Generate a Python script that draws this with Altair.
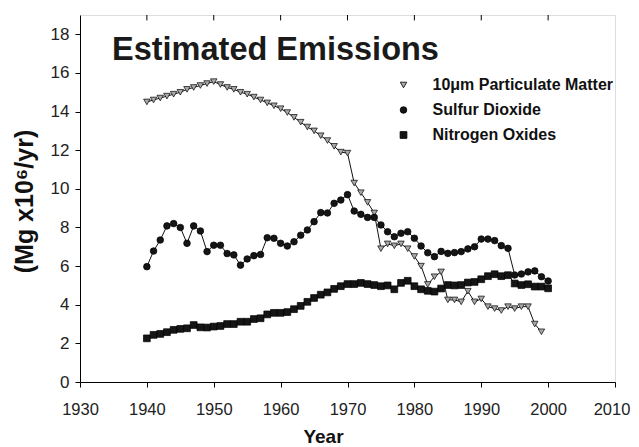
import altair as alt
import pandas as pd

# ---- data ----
series_names = ["10μm Particulate Matter", "Sulfur Dioxide", "Nitrogen Oxides"]

pm_years = list(range(1940, 2000))
pm_values = [14.5, 14.6, 14.7, 14.8, 14.9, 15.0, 15.15, 15.25, 15.35, 15.45,
             15.55, 15.4, 15.25, 15.15, 15.0, 14.9, 14.75, 14.6, 14.45, 14.3,
             14.15, 13.95, 13.7, 13.45, 13.2, 13.0, 12.75, 12.5, 12.2, 11.9,
             11.85, 10.3, 9.8, 9.3, 8.75, 6.9, 7.15, 7.05, 7.15, 6.9,
             6.5, 6.0, 5.05, 5.45, 5.7, 4.25, 4.25, 4.15, 4.7, 4.15,
             4.3, 3.9, 3.8, 3.7, 3.9, 3.8, 3.9, 3.9, 3.0, 2.6]

so2_years = list(range(1940, 2001))
so2_values = [5.97, 6.78, 7.35, 8.08, 8.2, 8.0, 7.18, 8.08, 7.82, 6.75,
              7.08, 7.08, 6.65, 6.58, 6.05, 6.37, 6.54, 6.6, 7.47, 7.44,
              7.18, 7.04, 7.26, 7.6, 7.87, 8.3, 8.77, 8.75, 9.25, 9.42,
              9.7, 8.85, 8.68, 8.52, 8.52, 8.13, 7.78, 7.52, 7.7, 7.78,
              7.44, 7.04, 6.69, 6.49, 6.76, 6.66, 6.7, 6.75, 6.89, 7.0,
              7.4, 7.4, 7.32, 7.06, 6.92, 5.54, 5.59, 5.7, 5.75, 5.45, 5.23]

nox_years = list(range(1940, 2001))
nox_values = [2.26, 2.44, 2.49, 2.58, 2.7, 2.75, 2.78, 2.95, 2.83, 2.82,
              2.87, 2.9, 3.0, 3.0, 3.12, 3.12, 3.26, 3.3, 3.5, 3.58,
              3.58, 3.62, 3.77, 3.94, 4.15, 4.35, 4.52, 4.64, 4.82, 4.96,
              5.07, 5.07, 5.13, 5.07, 5.02, 4.96, 5.0, 4.8, 5.13, 5.24,
              4.96, 4.8, 4.72, 4.68, 4.84, 5.02, 5.0, 5.02, 5.15, 5.18,
              5.32, 5.48, 5.58, 5.48, 5.53, 5.1, 5.02, 5.06, 4.94, 4.94, 4.85]

x_ticks = [1930, 1940, 1950, 1960, 1970, 1980, 1990, 2000, 2010]
y_ticks = [0, 2, 4, 6, 8, 10, 12, 14, 16, 18]
top_tick_years = [1940, 1950, 1960, 1970, 1980, 1990, 2000]
title_text = "Estimated Emissions"
x_title = "Year"
y_title = "(Mg x10⁶/yr)"

# ---- tables ----
rows = []
for name, yrs, vals in [(series_names[0], pm_years, pm_values),
                        (series_names[1], so2_years, so2_values),
                        (series_names[2], nox_years, nox_values)]:
    for yr, v in zip(yrs, vals):
        rows.append({"year": yr, "value": v, "series": name})
df = pd.DataFrame(rows)

ticks_df = pd.DataFrame({"year": top_tick_years,
                         "value": [19.0] * len(top_tick_years),
                         "value2": [18.72] * len(top_tick_years)})

FONT = "Liberation Sans"

x_scale = alt.Scale(domain=[1930, 2010], nice=False, zero=False)
y_scale = alt.Scale(domain=[0, 19], nice=False)

x_axis = alt.Axis(values=x_ticks, format="d", title=x_title, labelFlush=False,
                  labelFontSize=16.5, labelFont=FONT, labelColor="#222",
                  labelOffset={"condition": {"test": "datum.value == 2010",
                                             "value": -3.5},
                               "value": 0},
                  labelPadding=14, tickSize=5, tickColor="black",
                  domainColor="black", grid=False,
                  titleFont=FONT, titleFontSize=19, titleFontWeight="bold",
                  titleColor="#111", titleX=243, titleY=60,
                  titleBaseline="alphabetic", titleAlign="center")
y_axis = alt.Axis(values=y_ticks, title=y_title,
                  labelFontSize=17, labelFont=FONT, labelColor="#222",
                  labelPadding=6, tickSize=5, tickColor="black",
                  domainColor="black", grid=False,
                  titleFont=FONT, titleFontSize=25, titleFontWeight="bold",
                  titleColor="#111", titleAngle=-90, titleX=-55.5,
                  titleY=186, titleBaseline="middle", titleAlign="center")

X = alt.X("year:Q", scale=x_scale, axis=x_axis)
Y = alt.Y("value:Q", scale=y_scale, axis=y_axis)

legend = alt.Legend(title=None, orient="none", legendX=315.5, legendY=62,
                    labelFont=FONT, labelFontSize=16, labelFontWeight="bold",
                    labelColor="#111", labelLimit=400, symbolSize=30,
                    labelOffset=21, rowPadding=9, padding=0,
                    symbolStrokeWidth=0.8, symbolStrokeColor="black")

lines = alt.Chart(df).mark_line(color="#111", strokeWidth=1).encode(
    x=X, y=Y, detail="series:N", order="year:Q")

points = alt.Chart(df).mark_point(filled=True, stroke="black",
                                  strokeWidth=0.7, opacity=1).encode(
    x=X, y=Y,
    color=alt.Color("series:N",
                    scale=alt.Scale(domain=series_names,
                                    range=["#a9a9a9", "#151515", "#151515"]),
                    legend=legend),
    shape=alt.Shape("series:N",
                    scale=alt.Scale(domain=series_names,
                                    range=["triangle-down", "circle", "square"]),
                    legend=legend),
    size=alt.Size("series:N",
                  scale=alt.Scale(domain=series_names, range=[42, 46, 32]),
                  legend=None),
)

top_ticks = alt.Chart(ticks_df).mark_rule(color="black", strokeWidth=1).encode(
    x=X, y=Y, y2="value2:Q")

title = alt.Chart(pd.DataFrame({"t": [title_text]})).mark_text(
    font=FONT, fontSize=32.5, fontWeight="bold", color="#1a1a1a",
    align="left", baseline="alphabetic").encode(
    text="t:N", x=alt.value(32), y=alt.value(45))

chart = alt.layer(lines, points, top_ticks, title).properties(
    width=535, height=367,
    autosize=alt.AutoSizeParams(type="none"),
    padding={"left": 72, "top": 7, "right": 16, "bottom": 64},
).configure_view(stroke="black", strokeWidth=1).configure(background="white")

chart.save("out.html", embed_options={"renderer": "svg", "actions": False})
